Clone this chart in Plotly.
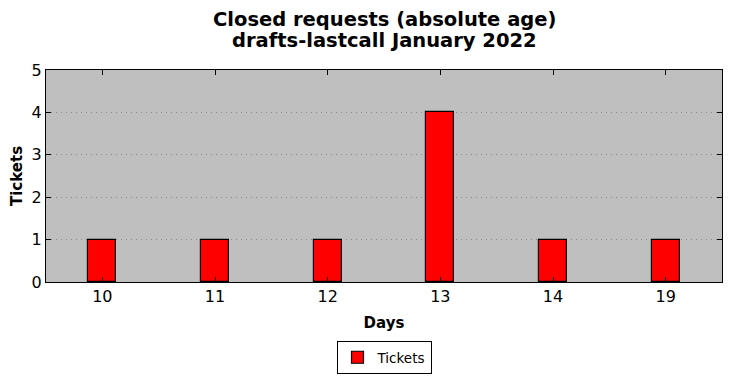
import plotly.graph_objects as go

days = ["10", "11", "12", "13", "14", "19"]
tickets = [1, 1, 1, 4, 1, 1]
title_lines = ["Closed requests (absolute age)", "drafts-lastcall January 2022"]

fig = go.Figure()
fig.add_trace(go.Bar(
    x=days, y=tickets, name="Tickets",
    marker=dict(color="#ff0000", line=dict(color="black", width=1.2)),
    width=0.25, showlegend=True,
))

for i, t in enumerate(title_lines):
    fig.add_annotation(
        text="<b>%s</b>" % t, xref="paper", yref="paper",
        x=0.5, xanchor="center", y=1 + (51 - 22 * i) / 212.0, yanchor="middle",
        showarrow=False, font=dict(size=19.5),
    )

fig.update_layout(
    width=732, height=378,
    margin=dict(l=46, r=10, t=70, b=96, autoexpand=False),
    paper_bgcolor="white", plot_bgcolor="#bfbfbf",
    font=dict(family="DejaVu Sans", color="black"),
    xaxis=dict(
        type="category", range=[-0.5, 5.5], automargin=False,
        title=dict(text="<b>Days</b>", font=dict(size=15), standoff=12),
        tickfont=dict(size=16),
        showline=True, linecolor="black", linewidth=1, mirror="ticks",
        ticks="inside", ticklen=5, tickcolor="black",
        showgrid=False, zeroline=False,
    ),
    yaxis=dict(
        range=[0, 5], dtick=1, automargin=False,
        title=dict(text="<b>Tickets</b>", font=dict(size=15), standoff=5),
        tickfont=dict(size=16),
        showline=True, linecolor="black", linewidth=1, mirror="ticks",
        ticks="inside", ticklen=5, tickcolor="black",
        showgrid=True, gridcolor="#8c8c8c", griddash="1px,4px", gridwidth=1,
        zeroline=False,
    ),
    legend=dict(
        orientation="h", x=0.5, xanchor="center",
        yref="container", y=1 - 341 / 378.0, yanchor="top",
        bordercolor="black", borderwidth=1, bgcolor="white",
        font=dict(size=13.5),
    ),
    bargap=0,
)

fig.write_html("out.html")
